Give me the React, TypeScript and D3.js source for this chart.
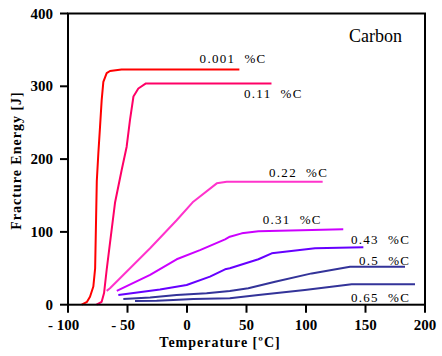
import React from "react";
import * as d3 from "d3";

const xTicks = [-100, -50, 0, 50, 100, 150, 200];
const yTicks = [0, 100, 200, 300, 400];

const t001 = [-88.5, -84, -81.5, -78.7, -77.2, -75.8, -74.5, -73.1, -71.7, -70.3, -67.5, -64.7, -55, 44];
const e001 = [0, 4, 11, 25, 50, 170, 208, 244, 281, 306, 318, 321, 323, 323];

const t011 = [-76, -71.7, -69.7, -67.5, -64.7, -60.5, -54.9, -50.7, -47.9, -45, -40.9, -34.5, 71];
const e011 = [0, 4, 16, 48, 85, 140, 185, 217, 254, 286, 297, 304, 304];

const t022 = [-67.5, -64.7, -31, -8.7, 5.3, 25, 33.4, 114];
const e022 = [19, 22.5, 77.5, 116, 141.5, 166.7, 169, 169];

const t031 = [-59, -31, -8.7, 10.9, 32, 36, 46, 60, 104.8, 131.3];
const e031 = [19, 41, 62.4, 75, 89.8, 93.4, 98, 101, 102.6, 103.6];

const t043 = [-57.7, -22.7, -0.3, 19.3, 32, 36, 60, 71.2, 107.6, 148.2];
const e043 = [13.3, 21, 27, 38.5, 48.6, 50, 62.4, 70.6, 77.5, 78.8];

const t05 = [-53.5, -31, -8.7, 16.5, 36, 51.5, 74, 104.8, 137, 183.2];
const e05 = [7.8, 10, 13.3, 15.6, 18.8, 22.5, 31.6, 43, 52.2, 52.2];

const t065 = [-43.7, -25.5, -11.5, 5.3, 36, 60, 99, 138.4, 191.6];
const e065 = [5, 5.5, 6.5, 7.8, 8.8, 13.3, 20.2, 28, 28];

const seriesNames = ["0.001  %C", "0.11  %C", "0.22  %C", "0.31  %C", "0.43  %C", "0.5  %C", "0.65  %C"];
const seriesT = [t001, t011, t022, t031, t043, t05, t065];
const seriesE = [e001, e011, e022, e031, e043, e05, e065];
const seriesColors = ["#ff0000", "#ff0066", "#ff33cc", "#cc00ff", "#6600ff", "#333399", "#333399"];
// label anchors in data units (temperature, energy)
const labelT = [10.6, 47.9, 68.9, 63.6, 137.8, 144.5, 137.8];
const labelE = [332, 284, 175.4, 110.2, 83.4, 55.2, 3.7];

const W = 442;
const H = 356;
const FONT = "Liberation Serif";

export default function App() {
  const x = d3.scaleLinear().domain([-100, 200]).range([68, 425]);
  const y = d3.scaleLinear().domain([0, 400]).range([304.7, 13.5]);
  const line = d3
    .line<[number, number]>()
    .x((d) => x(d[0]))
    .y((d) => y(d[1]));

  const ts = (extra: React.CSSProperties = {}): React.CSSProperties => ({ fontFamily: FONT, ...extra });

  return (
    <svg
      width={W}
      height={H}
      style={{ position: "absolute", left: 0, top: 0, background: "#fff", fontFamily: FONT }}
    >
      <rect x={0} y={0} width={W} height={H} fill="#fff" />
      {seriesT.map((tt, i) => (
        <path
          key={i}
          d={line(tt.map((t, j) => [t, seriesE[i][j]] as [number, number])) || ""}
          fill="none"
          stroke={seriesColors[i]}
          strokeWidth={2}
          strokeLinejoin="round"
        />
      ))}
      <rect
        x={x(-100)}
        y={y(400)}
        width={x(200) - x(-100)}
        height={y(0) - y(400)}
        fill="none"
        stroke="#000"
        strokeWidth={2}
      />
      {yTicks.map((v) => (
        <g key={"y" + v}>
          <line x1={x(-100) - 8} x2={x(-100)} y1={y(v)} y2={y(v)} stroke="#000" strokeWidth={2} />
          <text x={x(-100) - 15} y={y(v) + 5} textAnchor="end" style={ts({ fontSize: 15, fontWeight: "bold" })}>
            {v}
          </text>
        </g>
      ))}
      {xTicks.map((v) => {
        const digits = String(Math.abs(v));
        const half = (digits.length * 7.5) / 2;
        return (
          <g key={"x" + v}>
            <line x1={x(v)} x2={x(v)} y1={y(0)} y2={y(0) + 8} stroke="#000" strokeWidth={2} />
            <text x={x(v)} y={329.5} textAnchor="middle" style={ts({ fontSize: 15, fontWeight: "bold" })}>
              {digits}
            </text>
            {v < 0 && (
              <text x={x(v) - half} y={329.5} textAnchor="end" style={ts({ fontSize: 15, fontWeight: "bold", whiteSpace: "pre" })}>
                {"- "}
              </text>
            )}
          </g>
        );
      })}
      <text x={220} y={347} textAnchor="middle" style={ts({ fontSize: 14, fontWeight: "bold", letterSpacing: 1 })}>
        Temperature [ºC]
      </text>
      <text
        transform="translate(21,160.5) rotate(-90)"
        textAnchor="middle"
        style={ts({ fontSize: 14, fontWeight: "bold", letterSpacing: 1 })}
      >
        Fracture Energy [J]
      </text>
      {seriesNames.map((n, i) => (
        <text
          key={"l" + i}
          x={x(labelT[i])}
          y={y(labelE[i])}
          style={ts({ fontSize: 13, letterSpacing: 1.3, whiteSpace: "pre" })}
        >
          {n}
        </text>
      ))}
      <text x={349} y={41.5} style={ts({ fontSize: 18 })}>
        Carbon
      </text>
    </svg>
  );
}
